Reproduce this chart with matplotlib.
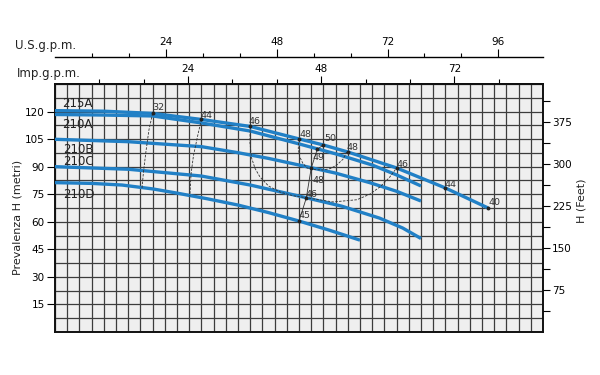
import numpy as np
import matplotlib
matplotlib.use('Agg')
import matplotlib.pyplot as plt

plt.rcParams['font.family'] = ['DejaVu Sans']

# ---- data: flow (l/min) and head (m) ----
q_215A = [0, 40, 80, 120, 160, 200, 220, 240, 280, 320, 355]
h_215A = [120.5, 120.2, 119.0, 115.7, 111.9, 105.1, 101.8, 98.0, 89.3, 78.4, 67.5]
q_210A = [0, 40, 80, 120, 160, 200, 230, 260, 280, 300]
h_210A = [118.4, 118.1, 117.6, 113.8, 109.4, 102.4, 97.0, 90.9, 85.5, 79.5]
q_210B = [0, 60, 120, 150, 175, 200, 230, 258, 280, 300]
h_210B = [104.9, 103.6, 100.9, 97.6, 94.5, 90.9, 86.5, 81.3, 76.6, 71.3]
q_210C = [0, 60, 120, 160, 200, 235, 266, 285, 300]
h_210C = [90.0, 88.6, 84.9, 80.0, 74.0, 68.5, 62.0, 56.6, 50.9]
q_210D = [0, 30, 55, 80, 100, 125, 150, 175, 200, 225, 250]
h_210D = [81.3, 80.9, 80.0, 77.9, 75.6, 72.5, 69.1, 65.0, 60.4, 55.4, 50.0]

curve_names = ['215A', '210A', '210B', '210C', '210D']
curve_label_pos = [(5.7, 122.3), (5.7, 111.1), (6.6, 97.5), (6.6, 90.9), (6.6, 73.0)]

# iso-efficiency curves
eff32_q = [80, 77, 74.5, 72.5, 71.3]
eff32_h = [119.0, 110.0, 98.0, 87.0, 78.2]
eff44_q = [120, 117, 113.5, 111.5, 110.5]
eff44_h = [115.7, 107.0, 96.0, 86.0, 73.8]
eff46_q = [160, 159.8, 161, 164, 168, 175, 184.4, 195, 206.6, 228, 247.5, 258, 266.4, 274, 280]
eff46_h = [111.9, 103.0, 95.0, 89.0, 84.4, 79.5, 76.2, 74.2, 73.0, 70.8, 72.0, 75.0, 79.0, 84.0, 89.3]
eff48_q = [200, 199.4, 200.5, 203, 206.6, 213, 219.7, 226, 231.1, 236, 239.3]
eff48_h = [105.1, 100.0, 95.5, 92.0, 89.3, 88.4, 88.2, 89.0, 91.0, 94.0, 98.0]
bep_q = [220, 215, 210, 206, 200]
bep_h = [101.8, 99.5, 89.2, 73.0, 60.4]

# efficiency labels (text, q, h)
eff_labels = [('32', 79.5, 120.9), ('44', 118.9, 116.5), ('46', 159.0, 113.2),
              ('48', 200.0, 106.2), ('50', 221.0, 104.0), ('48', 239.3, 99.1),
              ('46', 280.3, 89.8), ('44', 318.9, 78.9), ('40', 355.0, 69.1),
              ('49', 210.7, 93.6), ('48', 210.7, 81.1), ('46', 205.0, 73.5),
              ('45', 199.2, 62.1)]
dot_q = [80, 120, 160, 200, 220, 240, 280, 320, 355, 215, 210, 206, 200]
dot_h = [119.0, 115.7, 111.9, 105.1, 101.8, 98.0, 89.3, 78.4, 67.5, 99.5, 89.2, 73.0, 60.4]

y_ticks_m = [15, 30, 45, 60, 75, 90, 105, 120]
y_ticks_ft = [75, 150, 225, 300, 375]
us_major = [24, 48, 72, 96]
imp_major = [24, 48, 72]

LPM_PER_IMP = 4.54609
LPM_PER_US = 3.78541
M_TO_FT = 3.28084

fig = plt.figure(figsize=(6, 3.75), dpi=100)
ax = fig.add_axes([55/600, 43/375, 488/600, 248/375])
ax.set_xlim(0, 400)
ax.set_ylim(0, 135)
ax.set_facecolor('#efefef')

ax.set_xticks(np.arange(0, 401, 10))
ax.tick_params(axis='x', bottom=False, labelbottom=False, top=False)
ax.set_yticks(y_ticks_m)
ax.set_yticks(np.arange(0, 136, 7.5), minor=True)
ax.tick_params(axis='y', which='major', length=6, width=0.8, labelsize=7.5, pad=1.5)
ax.tick_params(axis='y', which='minor', length=0)
ax.grid(True, which='both', color='#3c3c3c', lw=0.9)
ax.set_axisbelow(True)
for s in ax.spines.values():
    s.set_linewidth(1.4)
    s.set_color('#111111')

blue = '#2180c6'
for q, h in [(q_215A, h_215A), (q_210A, h_210A), (q_210B, h_210B), (q_210C, h_210C), (q_210D, h_210D)]:
    ax.plot(q, h, color=blue, lw=2.4, solid_capstyle='butt', solid_joinstyle='round', zorder=3)

dash = (0, (3, 1.6))
for q, h in [(eff32_q, eff32_h), (eff44_q, eff44_h), (eff46_q, eff46_h), (eff48_q, eff48_h)]:
    ax.plot(q, h, color='#333333', lw=0.6, ls=dash, zorder=4)
ax.plot(bep_q, bep_h, color='#333333', lw=0.6, zorder=4)
ax.plot(dot_q, dot_h, 'o', color='#222222', ms=1.8, zorder=5)

for txt, q, h in eff_labels:
    ax.text(q, h, txt, fontsize=6.8, color='#333333', ha='left', va='baseline', zorder=6)

for name, (q, h) in zip(curve_names, curve_label_pos):
    ax.text(q, h, name, fontsize=8.5, color='#222222', ha='left', va='baseline', zorder=6)

# right axis in feet
ax2 = ax.twinx()
ax2.set_ylim(0, 135 * M_TO_FT)
ax2.set_yticks(y_ticks_ft)
ax2.set_yticks(np.arange(37.5, 440, 37.5), minor=True)
ax2.tick_params(axis='y', which='both', length=5, width=0.8, labelsize=7.5, pad=1.5)
ax2.grid(False)
for s in ax2.spines.values():
    s.set_visible(False)

# top axes
imp = ax.secondary_xaxis('top', functions=(lambda q: q / LPM_PER_IMP, lambda g: g * LPM_PER_IMP))
imp.set_xticks(imp_major)
imp.set_xticks(np.arange(8, 81, 8), minor=True)
imp.tick_params(which='major', length=6, width=0.8, labelsize=7.5, pad=1)
imp.tick_params(which='minor', length=3.5, width=0.8)
imp.spines['top'].set_linewidth(1.4)

us = ax.secondary_xaxis(1 + 27/248, functions=(lambda q: q / LPM_PER_US, lambda g: g * LPM_PER_US))
us.set_xticks(us_major)
us.set_xticks(np.arange(8, 97, 8), minor=True)
us.tick_params(which='major', length=6, width=0.8, labelsize=7.5, pad=1)
us.tick_params(which='minor', length=3, width=0.8)
us.spines['top'].set_linewidth(1.0)

fig.text(15/600, 1 - 45/375, 'U.S.g.p.m.', fontsize=8.5, ha='left', va='center', color='#222222')
fig.text(17/600, 1 - 73/375, 'Imp.g.p.m.', fontsize=8.5, ha='left', va='center', color='#222222')
fig.text(18/600, 1 - 217/375, 'Prevalenza H (metri)', fontsize=8, rotation=90,
         ha='center', va='center', color='#222222')
fig.text(582/600, 1 - 201/375, 'H (Feet)', fontsize=8, rotation=90,
         ha='center', va='center', color='#222222')

fig.savefig('out.png', dpi=100, facecolor='white')
